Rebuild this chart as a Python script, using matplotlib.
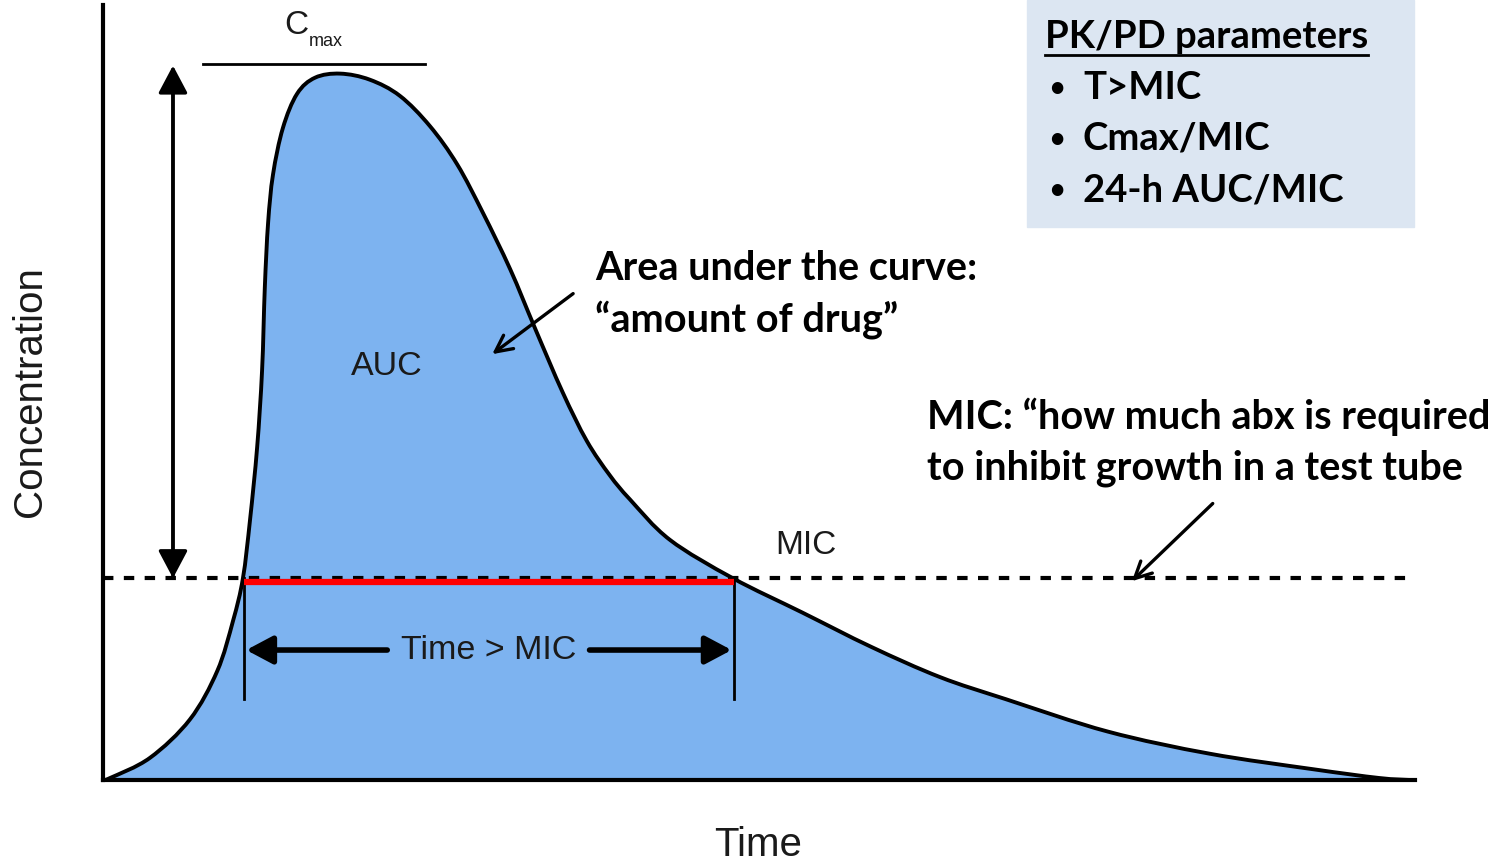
import numpy as np
import matplotlib.pyplot as plt
from matplotlib.patches import Rectangle, PathPatch
from matplotlib.path import Path

# concentration-time curve (time in h, concentration in MIC units)
time = [0.0, 0.13, 0.86, 1.59, 2.09, 2.38, 2.56, 2.69, 2.82, 2.91, 2.96, 3.02, 3.11, 3.29,
        3.55, 3.88, 4.34, 4.88, 5.43, 5.98, 6.48, 6.95, 7.45, 7.90, 8.41, 8.85, 9.27, 9.64,
        10.37, 11.52, 12.79, 14.05, 15.31, 16.52, 18.38, 20.25, 22.12, 23.34, 23.91]
conc = [0.0, 0.01, 0.11, 0.30, 0.54, 0.79, 1.00, 1.29, 1.65, 2.03, 2.44, 2.76, 3.00, 3.23,
        3.40, 3.48, 3.50, 3.47, 3.39, 3.24, 3.05, 2.81, 2.53, 2.24, 1.92, 1.68, 1.51, 1.39,
        1.19, 1.00, 0.83, 0.66, 0.51, 0.40, 0.24, 0.13, 0.054, 0.01, 0.0]

mic = 1.0
cmax = 3.5
t_above = (2.58, 11.54)      # time window where conc > MIC
t_end = 24.0

params_title = 'PK/PD parameters'
params = ['T>MIC', 'Cmax/MIC', '24-h AUC/MIC']
auc_note = ['Area under the curve:', '\u201camount of drug\u201d']
mic_note = ['MIC: \u201chow much abx is required', 'to inhibit growth in a test tube']

W, H = 1501, 863
fill_color = '#7db3f0'
box_color = '#dce6f2'
ink = '#1a1a1a'
bold_font = ['Lato', 'DejaVu Sans']
plain_font = ['Liberation Sans', 'DejaVu Sans']


def fx(px):
    return px / W


def fy(py):
    return 1 - py / H


def smooth_path(x, y):
    """Catmull-Rom through the read points, as cubic Bezier segments."""
    p = np.column_stack([x, y])
    ext = np.vstack([p[0], p, p[-1]])
    verts, codes = [p[0]], [Path.MOVETO]
    for i in range(len(p) - 1):
        p0, p1, p2, p3 = ext[i], ext[i + 1], ext[i + 2], ext[i + 3]
        verts += [p1 + (p2 - p0) / 6, p2 - (p3 - p1) / 6, p2]
        codes += [Path.CURVE4] * 3
    return verts, codes


fig = plt.figure(figsize=(W / 100, H / 100), dpi=100)
ax = fig.add_axes([fx(103), fy(780), fx(1415) - fx(103), fy(5) - fy(780)])
ax.set_xlim(0, t_end)
ax.set_ylim(0, 3.84)
for s in ['top', 'right']:
    ax.spines[s].set_visible(False)
for s in ['left', 'bottom']:
    ax.spines[s].set_linewidth(3)
ax.set_xticks([])
ax.set_yticks([])

verts, codes = smooth_path(time, conc)
fill_path = Path(verts + [(time[0], 0), (time[0], 0)], codes + [Path.LINETO, Path.CLOSEPOLY])
ax.add_patch(PathPatch(fill_path, facecolor=fill_color, lw=0, zorder=1))
ax.add_patch(PathPatch(Path(verts, codes), facecolor='none', edgecolor='black', lw=2.8, zorder=3))

# MIC threshold
ax.plot([0, 23.95], [mic, mic], color='black', lw=3, ls=(0, (2.5, 2.5)), zorder=2)
ax.plot(t_above, [mic - 0.02, mic - 0.02], color='red', lw=4.5, zorder=4, solid_capstyle='butt')

# Cmax bar and double arrow
ax.plot([1.83, 5.89], [cmax + 0.05, cmax + 0.05], color='black', lw=2, zorder=3)
head = '-|>,head_length=1.7,head_width=0.9'
ax.annotate('', xy=(1.28, cmax + 0.04), xytext=(1.28, mic),
            arrowprops=dict(arrowstyle=head, lw=2.5, color='black', shrinkA=0, shrinkB=0))
ax.annotate('', xy=(1.28, mic), xytext=(1.28, cmax),
            arrowprops=dict(arrowstyle=head, lw=2.5, color='black', shrinkA=0, shrinkB=0))

# Time > MIC bracket
y_bar = 0.644
for t in t_above:
    ax.plot([t, t], [0.40, mic], color='black', lw=2, zorder=3)
bar_head = '-|>,head_length=1.6,head_width=0.85'
ax.annotate('', xy=(t_above[0] + 0.04, y_bar), xytext=(5.2, y_bar),
            arrowprops=dict(arrowstyle=bar_head, lw=4, color='black', shrinkA=0, shrinkB=0))
ax.annotate('', xy=(t_above[1] - 0.04, y_bar), xytext=(8.9, y_bar),
            arrowprops=dict(arrowstyle=bar_head, lw=4, color='black', shrinkA=0, shrinkB=0))
ax.text(7.06, y_bar, 'Time > MIC', ha='center', va='center', fontsize=24.5, family=plain_font,
        color=ink, zorder=5)

ax.text(5.2, 2.05, 'AUC', ha='center', va='center', fontsize=24.5, family=plain_font, color=ink)
ax.text(12.86, 1.16, 'MIC', ha='center', va='center', fontsize=24, family=plain_font, color=ink)

# pointer arrows
pointer = '->,head_length=1.2,head_width=0.6'
ax.annotate('', xy=(7.12, 2.11), xytext=(8.6, 2.41),
            arrowprops=dict(arrowstyle=pointer, lw=2.4, color='black', shrinkA=0, shrinkB=0),
            annotation_clip=False)
ax.annotate('', xy=(18.82, 0.985), xytext=(20.3, 1.37),
            arrowprops=dict(arrowstyle=pointer, lw=2.4, color='black', shrinkA=0, shrinkB=0),
            annotation_clip=False)

# axis titles and Cmax label
fig.text(fx(30), fy(392), 'Concentration', rotation=90, ha='center', va='center', fontsize=29,
         family=plain_font, color=ink)
fig.text(fx(758), fy(845), 'Time', ha='center', va='center', fontsize=29, family=plain_font, color=ink)
fig.text(fx(296), fy(25), 'C', ha='center', va='center', fontsize=24, family=plain_font, color=ink)
fig.text(fx(326), fy(42), 'max', ha='center', va='center', fontsize=13, family=plain_font, color=ink)

# notes
for i, line in enumerate(auc_note):
    fig.text(fx(595), fy(268 + 52 * i), line, ha='left', va='center', fontsize=28.5,
             family=bold_font, weight='bold')
for i, line in enumerate(mic_note):
    fig.text(fx(927), fy(417 + 51 * i), line, ha='left', va='center', fontsize=28.5,
             family=bold_font, weight='bold')

# parameter box
fig.patches.append(Rectangle((fx(1027), fy(227)), fx(1414) - fx(1027), fy(0) - fy(227),
                             transform=fig.transFigure, color=box_color, zorder=0))
title = fig.text(fx(1045), fy(37), params_title, ha='left', va='center', fontsize=27.5,
                 family=bold_font, weight='bold')
for i, p in enumerate(params):
    yy = fy(88 + 51 * i)
    fig.text(fx(1049), yy, '\u2022', ha='left', va='center', fontsize=19, family=bold_font, weight='bold')
    fig.text(fx(1083), yy, p, ha='left', va='center', fontsize=27.5, family=bold_font, weight='bold')

fig.canvas.draw()
bb = title.get_window_extent().transformed(fig.transFigure.inverted())
fig.add_artist(plt.Line2D([bb.x0, bb.x1], [fy(55), fy(55)], color='black', lw=2,
                          transform=fig.transFigure))

fig.savefig('out.png', dpi=100)
